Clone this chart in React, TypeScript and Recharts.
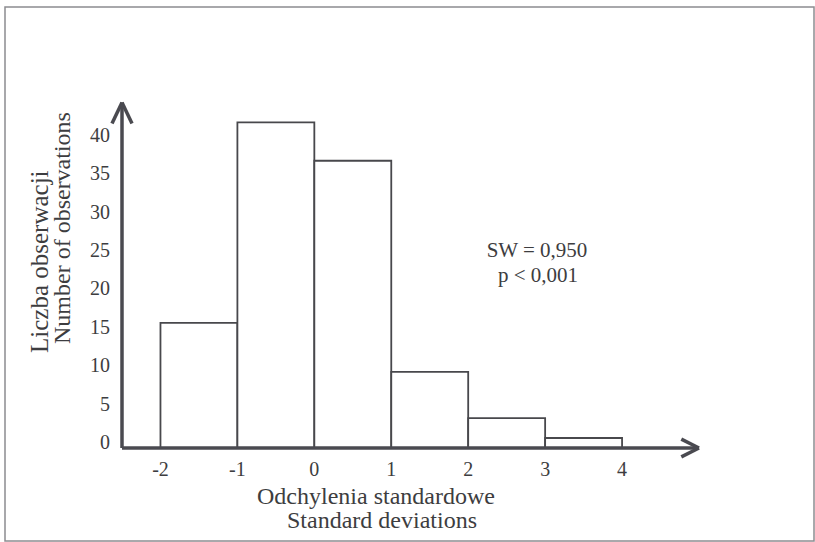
import React from 'react';
import { ComposedChart, XAxis, YAxis, ReferenceArea, ReferenceLine } from 'recharts';

// Histogram bins (in standard deviations) and observation counts
const binStarts = [-2, -1, 0, 1, 2, 3];
const binEnds = [-1, 0, 1, 2, 3, 4];
const counts = [16.3, 42.4, 37.4, 9.9, 3.9, 1.3];

const xTicks = [-2, -1, 0, 1, 2, 3, 4];
const yTicks = [0, 5, 10, 15, 20, 25, 30, 35, 40];
const xDomain = [-2.5, 5];
const yDomain = [0, 45];

const statLines = ['SW = 0,950', 'p < 0,001'];
const yTitle = ['Liczba obserwacji', 'Number of observations'];
const xTitle = ['Odchylenia standardowe', 'Standard deviations'];

const bins = binStarts.map((start, i) => ({ start, end: binEnds[i], count: counts[i] }));

const INK = '#3d3d40';
const AXIS = '#4a4a50';
const FONT = '"Liberation Serif", "Times New Roman", serif';

const XTick = (props: any) => (
  <text x={props.x} y={props.y} dy={20} textAnchor="middle" fontFamily={FONT} fontSize={20} fill={INK}>
    {props.payload.value}
  </text>
);

const YTick = (props: any) => (
  <text x={props.x} y={props.y} dx={-4} dy={1} textAnchor="end" fontFamily={FONT} fontSize={20} fill={INK}>
    {props.payload.value}
  </text>
);

// Arrowhead sizes expressed in axis units
const xArrowLen = 0.23;
const xArrowHalf = 1.15;
const yArrowLen = 2.75;
const yArrowHalf = 0.13;

export default function App() {
  const xEnd = xDomain[1];
  const yEnd = yDomain[1];
  const x0 = xDomain[0];
  const arrowStyle = { stroke: AXIS, strokeWidth: 3.5, ifOverflow: 'visible' as const };
  return (
    <div style={{ position: 'absolute', left: 0, top: 0, background: '#fff' }}>
      <ComposedChart
        width={815}
        height={542}
        data={bins}
        margin={{ top: 102.4, right: 116, bottom: 54, left: 62 }}
      >
        <rect x={5} y={7} width={809} height={534} fill="none" stroke="#8c8c90" strokeWidth={1.5} />
        <XAxis
          type="number"
          dataKey="start"
          domain={xDomain}
          ticks={xTicks}
          interval={0}
          allowDataOverflow
          height={40}
          tickLine={false}
          axisLine={{ stroke: AXIS, strokeWidth: 3.5 }}
          tick={<XTick />}
        />
        <YAxis
          type="number"
          domain={yDomain}
          ticks={yTicks}
          interval={0}
          allowDataOverflow
          width={60}
          tickLine={false}
          axisLine={{ stroke: AXIS, strokeWidth: 3.5 }}
          tick={<YTick />}
        />
        {bins.map((b) => (
          <ReferenceArea
            key={b.start}
            x1={b.start}
            x2={b.end}
            y1={0}
            y2={b.count}
            fill="#ffffff"
            fillOpacity={1}
            stroke="#48484c"
            strokeWidth={1.8}
            isFront={false}
          />
        ))}
        <ReferenceLine segment={[{ x: xEnd - xArrowLen, y: xArrowHalf }, { x: xEnd, y: 0 }]} {...arrowStyle} />
        <ReferenceLine segment={[{ x: xEnd - xArrowLen, y: -xArrowHalf }, { x: xEnd, y: 0 }]} {...arrowStyle} />
        <ReferenceLine segment={[{ x: x0 - yArrowHalf, y: yEnd - yArrowLen }, { x: x0, y: yEnd }]} {...arrowStyle} />
        <ReferenceLine segment={[{ x: x0 + yArrowHalf, y: yEnd - yArrowLen }, { x: x0, y: yEnd }]} {...arrowStyle} />
        <text x={537} y={257} textAnchor="middle" fontFamily={FONT} fontSize={21} fill={INK}>
          {statLines[0]}
        </text>
        <text x={538} y={282} textAnchor="middle" fontFamily={FONT} fontSize={21} fill={INK}>
          {statLines[1]}
        </text>
        <text x={48} y={353} transform="rotate(-90 48 353)" fontFamily={FONT} fontSize={25} fill={INK}>
          {yTitle[0]}
        </text>
        <text x={70} y={344} transform="rotate(-90 70 344)" fontFamily={FONT} fontSize={24} fill={INK}>
          {yTitle[1]}
        </text>
        <text x={376} y={504} textAnchor="middle" fontFamily={FONT} fontSize={24} fill={INK}>
          {xTitle[0]}
        </text>
        <text x={382} y={528} textAnchor="middle" fontFamily={FONT} fontSize={24} fill={INK}>
          {xTitle[1]}
        </text>
      </ComposedChart>
    </div>
  );
}
